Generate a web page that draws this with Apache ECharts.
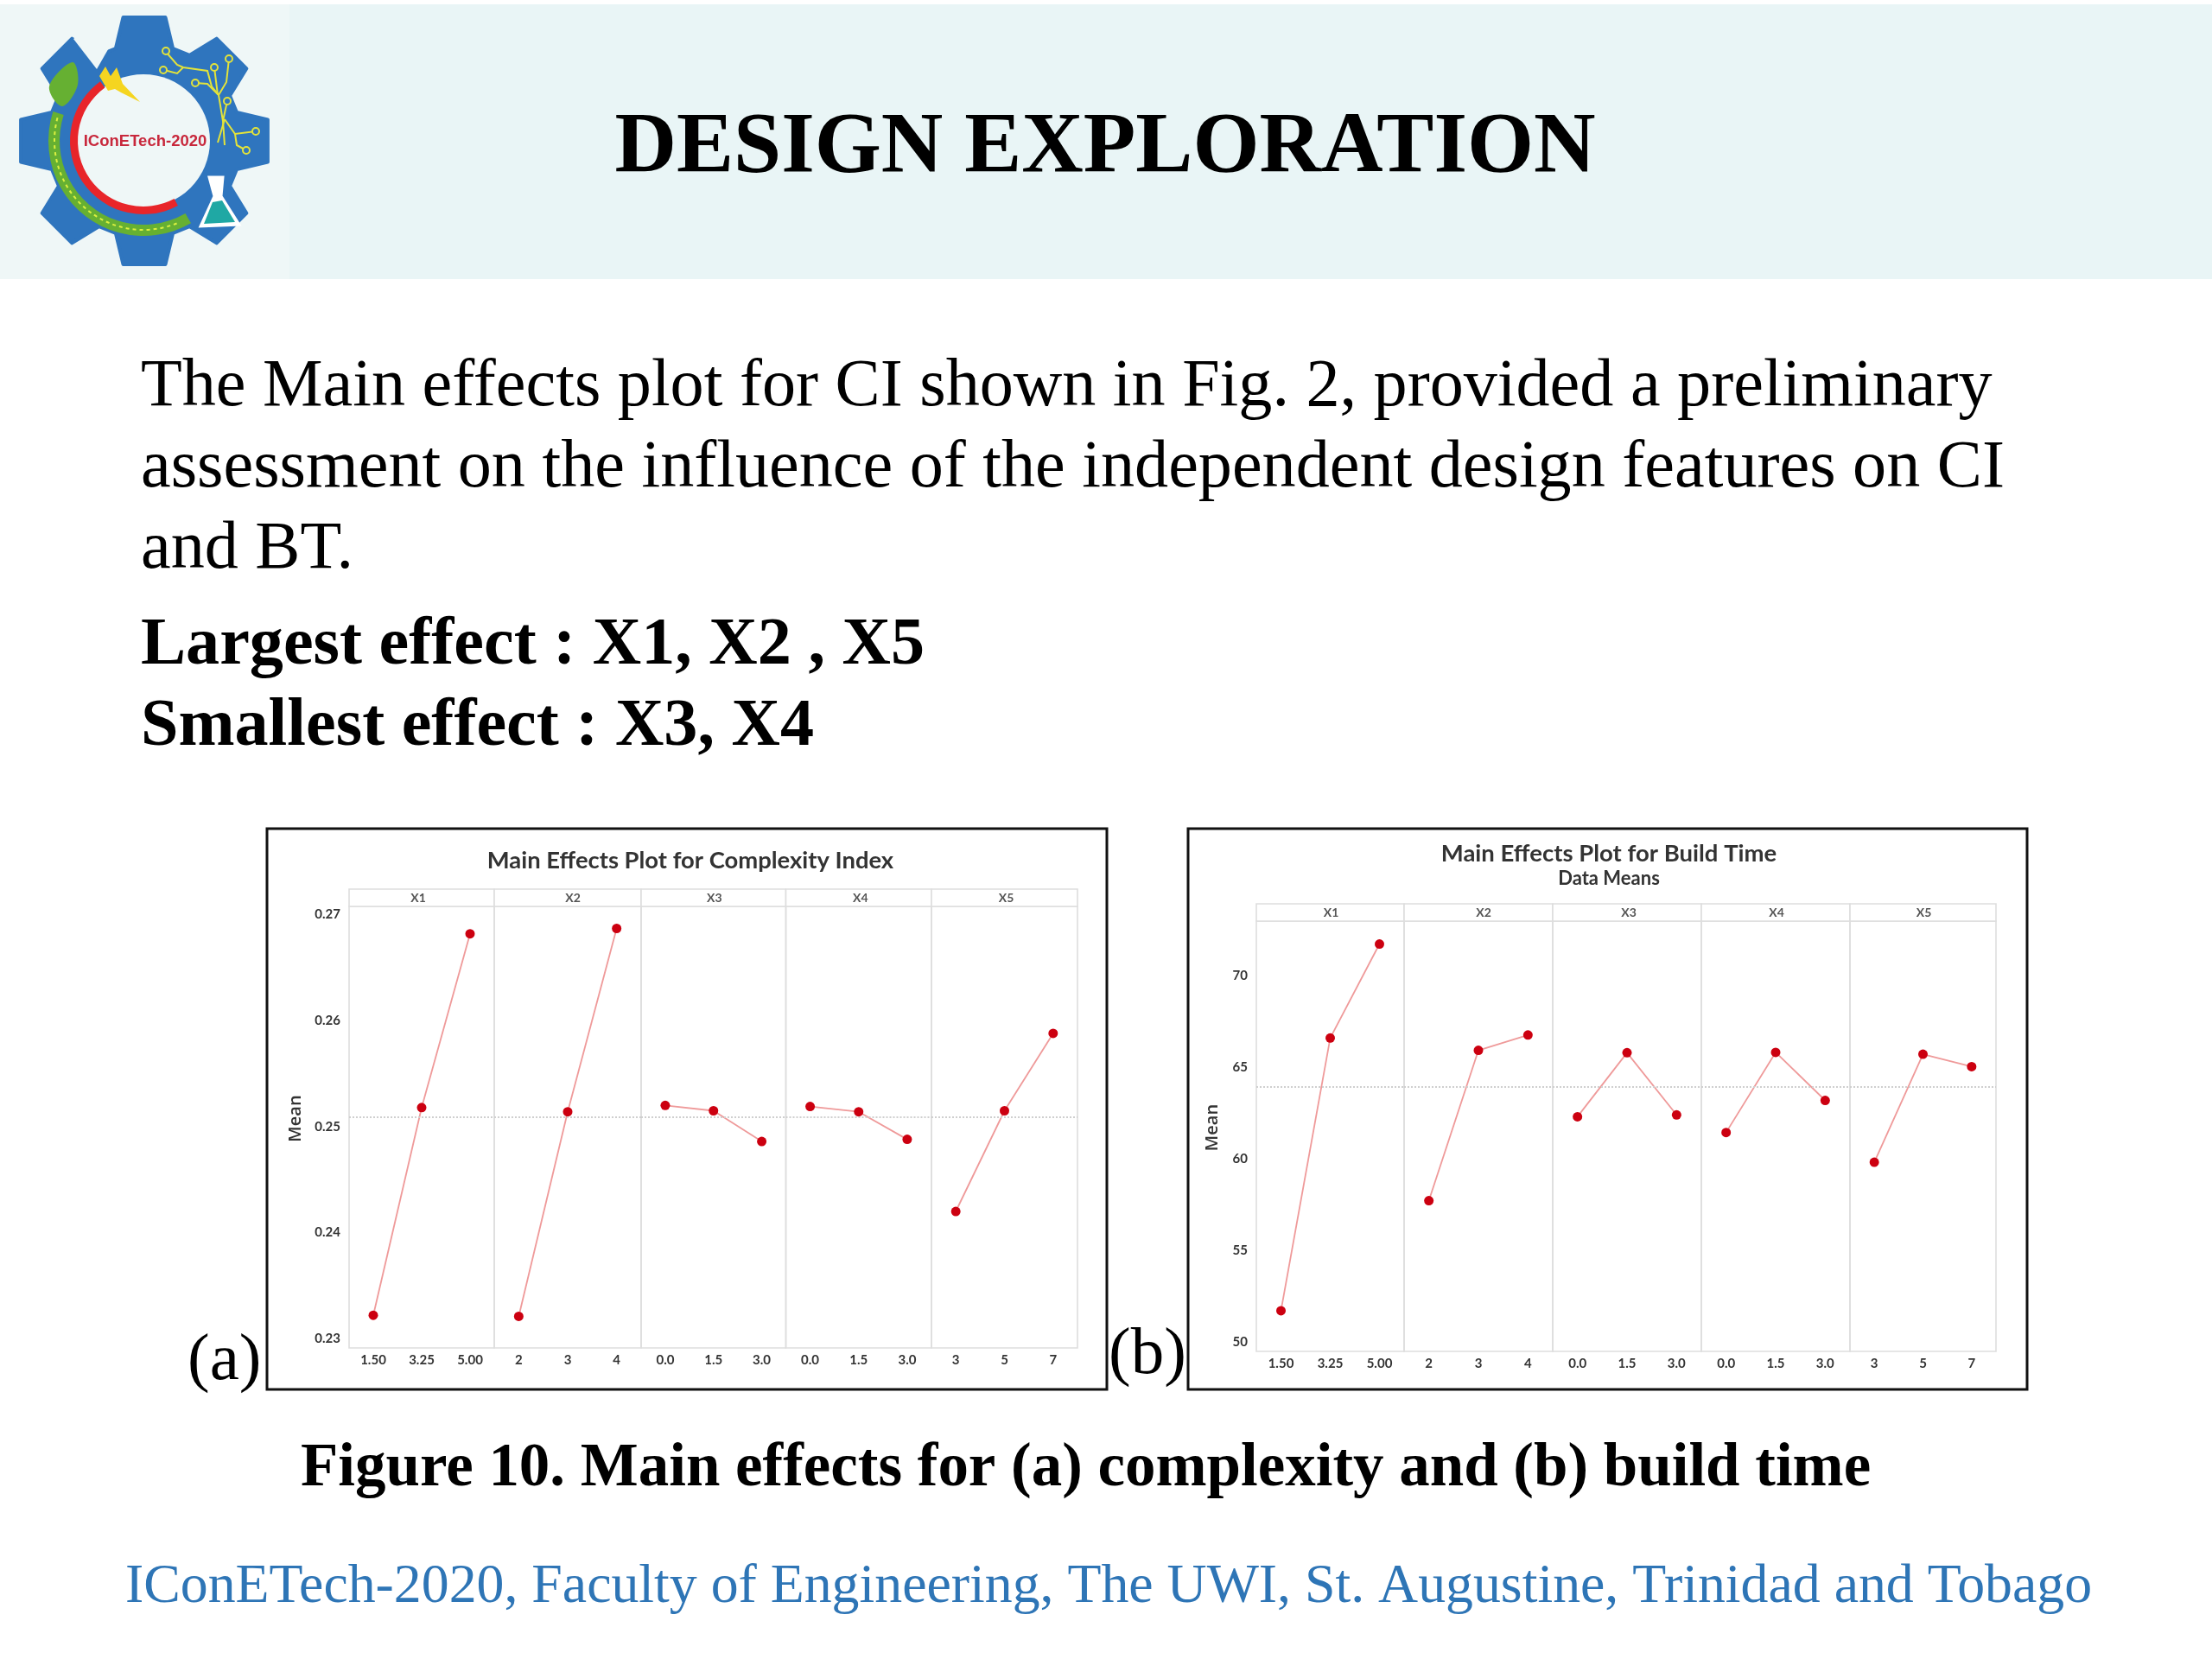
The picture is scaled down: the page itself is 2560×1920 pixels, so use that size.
<!DOCTYPE html>
<html><head><meta charset="utf-8">
<style>html,body{margin:0;padding:0;background:#fff}#c{width:2560px;height:1920px}</style>
<script src="https://cdn.jsdelivr.net/npm/echarts@6/dist/echarts.min.js"></script>
</head><body><div id="c"></div>
<script>
// ---- data ----
const factorNames = ['X1','X2','X3','X4','X5'];
const levelsX1 = ['1.50','3.25','5.00'];
const levelsX2 = ['2','3','4'];
const levelsX3 = ['0.0','1.5','3.0'];
const levelsX4 = ['0.0','1.5','3.0'];
const levelsX5 = ['3','5','7'];
const ciX1 = [0.2322,0.2518,0.2682];
const ciX2 = [0.2321,0.2514,0.2687];
const ciX3 = [0.2520,0.2515,0.2486];
const ciX4 = [0.2519,0.2514,0.2488];
const ciX5 = [0.2420,0.2515,0.2588];
const ciMean = 0.2509;
const ciTicks = [0.23,0.24,0.25,0.26,0.27];
const btX1 = [51.73,66.6,71.73];
const btX2 = [57.73,65.93,66.77];
const btX3 = [62.31,65.8,62.41];
const btX4 = [61.45,65.82,63.2];
const btX5 = [59.83,65.72,65.04];
const btMean = 63.95;
const btTicks = [50,55,60,65,70];
const ciTitle = 'Main Effects Plot for Complexity Index';
const btTitle = 'Main Effects Plot for Build Time';
const btSubtitle = 'Data Means';
const levels = [levelsX1,levelsX2,levelsX3,levelsX4,levelsX5];

// ---- layout ----
const SERIF = '"Liberation Serif"';
const CF = 'Lato';
const chartA = {edges:[404,572,742,909.5,1078,1247], top:1049, bottom:1560, strip:20, min:0.22912, max:0.27078, nameGap:52,
  labelShift:[-4,6,1,2,2], series:[ciX1,ciX2,ciX3,ciX4,ciX5], mean:ciMean, ticks:ciTicks, fmt:v=>v.toFixed(2)};
const chartB = {edges:[1454,1625,1797,1969,2141,2310], top:1066, bottom:1564, strip:20, min:49.51, max:72.98, nameGap:41,
  labelShift:[1,6,2,1,1], series:[btX1,btX2,btX3,btX4,btX5], mean:btMean, ticks:btTicks, fmt:v=>String(v)};

const grids=[],xAxes=[],yAxes=[],series=[],g=[];
function addChart(ch){
  factorNames.forEach((nm,i)=>{
    const idx=grids.length, l=ch.edges[i], r=ch.edges[i+1];
    grids.push({left:l,top:ch.top,width:r-l,height:ch.bottom-ch.top,show:true,borderColor:'#dedede',borderWidth:1.6,containLabel:false});
    xAxes.push({type:'category',gridIndex:idx,data:levels[i],boundaryGap:true,
      axisLine:{show:false},axisTick:{show:false},splitLine:{show:false},
      axisLabel:{interval:0,margin:7,fontFamily:CF,fontSize:15,color:'#333',fontWeight:'bold'}});
    const y={type:'value',gridIndex:idx,min:ch.min,max:ch.max,axisLine:{show:false},axisTick:{show:false},splitLine:{show:false}};
    if(i===0){
      y.axisLabel={customValues:ch.ticks,formatter:ch.fmt,margin:10,fontFamily:CF,fontSize:15,color:'#333',fontWeight:'bold',showMinLabel:true,showMaxLabel:true};
      y.name='Mean';y.nameLocation='middle';y.nameGap=ch.nameGap;y.nameRotate=90;
      y.nameTextStyle={fontFamily:'"Open Sans"',fontSize:20,color:'#333',fontWeight:600,padding:[0,0,0,20]};
    } else y.axisLabel={show:false};
    yAxes.push(y);
    series.push({type:'line',xAxisIndex:idx,yAxisIndex:idx,data:ch.series[i],symbol:'circle',symbolSize:11,
      lineStyle:{color:'#ef9a9a',width:1.8},itemStyle:{color:'#cc0010'},silent:true,
      markLine:{silent:true,precision:5,symbol:'none',label:{show:false},lineStyle:{color:'#cfcfcf',type:'dotted',width:2},data:[{yAxis:ch.mean}]}});
    g.push({type:'rect',shape:{x:l,y:ch.top-ch.strip,width:r-l,height:ch.strip},style:{fill:'#fff',stroke:'#dedede',lineWidth:1.6},z:1});
    g.push({type:'text',style:{x:(l+r)/2+ch.labelShift[i],y:ch.top-ch.strip/2,text:nm,font:'bold 14px '+CF,fill:'#555',textAlign:'center',textVerticalAlign:'middle'},z:3});
  });
}
addChart(chartA);addChart(chartB);

function txt(x,y,text,font,fill,align,extra){
  g.push(Object.assign({type:'text',style:{x,y,text,font,fill,textAlign:align||'left',textVerticalAlign:'middle'},z:5},extra||{}));
}
// header band
g.push({type:'rect',shape:{x:0,y:5,width:2560,height:318},style:{fill:'#e9f5f6'},z:0});
g.push({type:'rect',shape:{x:0,y:5,width:335,height:318},style:{fill:'#eff7f7'},z:0});
// slide text
txt(1279,172,'DESIGN EXPLORATION','bold 99.1px '+SERIF,'#000','center');
txt(163,448,'The Main effects plot for CI shown in Fig. 2, provided a preliminary','78.15px '+SERIF,'#000');
txt(163,542,'assessment on the influence of the independent design features on CI','78.15px '+SERIF,'#000');
txt(163,636,'and BT.','78.15px '+SERIF,'#000');
txt(163,748,'Largest effect : X1, X2 , X5','bold 78.15px '+SERIF,'#000');
txt(163,842,'Smallest effect : X3, X4','bold 78.15px '+SERIF,'#000');
txt(217,1576,'(a)','77px '+SERIF,'#000');
txt(1283,1569,'(b)','77px '+SERIF,'#000');
txt(348,1701,'Figure 10. Main effects for (a) complexity and (b) build time','bold 70.95px '+SERIF,'#000');
txt(145,1837,'IConETech-2020, Faculty of Engineering, The UWI, St. Augustine, Trinidad and Tobago','63.8px '+SERIF,'#2e75b6');
// frames
g.push({type:'rect',shape:{x:309,y:959,width:972,height:649},style:{fill:'none',stroke:'#111',lineWidth:3},z:4});
g.push({type:'rect',shape:{x:1375,y:959,width:971,height:649},style:{fill:'none',stroke:'#111',lineWidth:3},z:4});
// chart titles
txt(799,996,ciTitle,'bold 27.4px '+CF,'#333','center');
txt(1862,988,btTitle,'bold 27.5px '+CF,'#333','center');
txt(1862,1017,btSubtitle,'bold 22px '+CF,'#333','center');

// ---- logo (decorative) ----
(function(){
  const cx=167,cy=163,LB='#2f75be',BG='#eff7f7';
  const pts=[];
  for(let k=0;k<8;k++){
    const a=-Math.PI/2+k*Math.PI/4;
    const P=(r,d)=>[cx+r*Math.cos(a+d),cy+r*Math.sin(a+d)];
    pts.push(P(112,-0.30),P(145,-0.17),P(145,0.17),P(112,0.30));
  }
  g.push({type:'polygon',shape:{points:pts},style:{fill:LB,stroke:LB,lineWidth:4,lineJoin:'round'},z:1});
  g.push({type:'polygon',shape:{points:[[112,80],[128,52],[105,30],[85,45]]},style:{fill:BG},z:1});
  g.push({type:'circle',shape:{cx:166,cy:163,r:77},style:{fill:BG},z:1});
  const rad=d=>d*Math.PI/180;
  g.push({type:'sector',shape:{cx:166,cy:163,r0:76,r:85,startAngle:rad(62),endAngle:rad(234),clockwise:true},style:{fill:'#e8252a'},z:2});
  g.push({type:'sector',shape:{cx:166,cy:163,r0:97,r:110,startAngle:rad(60),endAngle:rad(198),clockwise:true},style:{fill:'#66b032'},z:2});
  g.push({type:'arc',shape:{cx:166,cy:163,r:103,startAngle:rad(68),endAngle:rad(196),clockwise:true},style:{fill:'none',stroke:'#dcf040',lineWidth:2,lineDash:[4,4]},z:3});
  g.push({type:'polygon',shape:{points:[[84,72],[90,98],[72,123],[57,100]],smooth:0.35},style:{fill:'#66b032'},z:2});
  g.push({type:'polygon',shape:{points:[[115,88],[122,77],[128,88],[135,78],[142,97],[162,118],[140,107],[133,103],[125,105]]},style:{fill:'#f5d520'},z:3});
  g.push({type:'polygon',shape:{points:[[242,205],[258,205],[256,227],[277,260],[232,262],[248,227]]},style:{fill:'#fff',stroke:'#fff',lineWidth:3},z:2});
  g.push({type:'polygon',shape:{points:[[246,234],[257,232],[272,257],[236,259]]},style:{fill:'#1fa8a4'},z:3});
  const Y='#e3e33a';
  [[[192,60],[205,75],[212,78],[240,82],[245,100],[253,110],[258,140],[260,168]],
   [[190,81],[205,85],[212,78]],[[226,96],[240,97],[253,110]],[[248,78],[252,110]],[[265,68],[262,95],[253,110]],
   [[263,117],[258,140]],[[260,138],[272,155],[296,152]],[[272,155],[274,168],[285,174]],[[260,138],[252,165]]]
  .forEach(p=>g.push({type:'polyline',shape:{points:p},style:{fill:'none',stroke:Y,lineWidth:2},z:3}));
  [[192,59],[189,81],[226,96],[248,78],[265,68],[263,117],[296,152],[285,174]].forEach(c=>
    g.push({type:'circle',shape:{cx:c[0],cy:c[1],r:4},style:{fill:LB,stroke:Y,lineWidth:2},z:4}));
  txt(168,164,'IConETech-2020','bold 18.5px "Liberation Sans"','#c8283c','center');
})();

const chart=echarts.init(document.getElementById('c'),null,{renderer:'canvas'});
chart.setOption({animation:false,backgroundColor:'#fff',grid:grids,xAxis:xAxes,yAxis:yAxes,series:series,graphic:{elements:g}});
</script></body></html>
